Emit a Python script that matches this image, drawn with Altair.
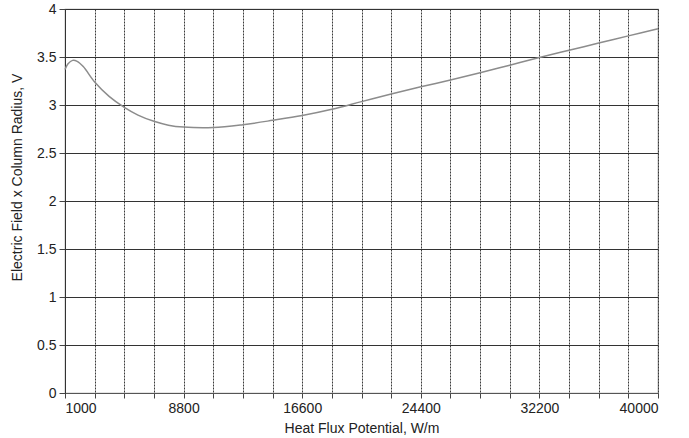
import altair as alt
import pandas as pd

heat_flux = [1000, 1200, 1500, 1800, 2200, 2950, 3900, 4900, 5800, 6850, 7800, 8800,
             10750, 12700, 14650, 16600, 18550, 20500, 22450, 24400, 26350, 28300,
             30250, 32200, 34150, 36100, 38050, 40000]
efield = [3.37, 3.43, 3.465, 3.455, 3.40, 3.24, 3.09, 2.975, 2.895, 2.83, 2.79, 2.77,
          2.765, 2.795, 2.84, 2.89, 2.955, 3.035, 3.115, 3.19, 3.26, 3.335,
          3.415, 3.495, 3.57, 3.645, 3.72, 3.795]

x_grid = [1000 + 1950 * k for k in range(21)]
x_labels = [1000, 8800, 16600, 24400, 32200, 40000]
y_ticks = [0, 0.5, 1, 1.5, 2, 2.5, 3, 3.5, 4]

df = pd.DataFrame({"x": heat_flux, "y": efield})

FONT = "Liberation Sans"
label_test = " || ".join(f"datum.value == {v}" for v in x_labels)

chart = alt.Chart(df).mark_line(
    color="#8c8c8c", strokeWidth=1.5, interpolate="catmull-rom"
).encode(
    x=alt.X("x:Q", scale=alt.Scale(domain=[1000, 40000], nice=False, zero=False),
            axis=alt.Axis(values=x_grid, title="Heat Flux Potential, W/m",
                          labelExpr=f"({label_test}) ? format(datum.value, 'd') : ''",
                          grid=True, gridColor="#3a3a3a", gridDash=[2, 1], gridWidth=1,
                          tickSize=5, tickColor="#444444", domainColor="#555555",
                          labelFontSize=14, labelPadding=3, titleFontSize=14,
                          titlePadding=6, labelFont=FONT, titleFont=FONT,
                          labelColor="#222222", titleColor="#222222",
                          titleFontWeight="normal", labelOverlap=False)),
    y=alt.Y("y:Q", scale=alt.Scale(domain=[0, 4], nice=False),
            axis=alt.Axis(values=y_ticks, title="Electric Field x Column Radius, V",
                          format="~g",
                          grid=True, gridColor="#333333", gridWidth=1,
                          tickSize=6, tickColor="#444444", domainColor="#333333",
                          labelFontSize=14, labelPadding=3, titleFontSize=14,
                          labelFont=FONT, titleFont=FONT,
                          labelColor="#222222", titleColor="#222222",
                          titleFontWeight="normal", titleX=-41, titleY=168))
).properties(
    width=593, height=384,
    autosize=alt.AutoSizeParams(type="none"),
    padding={"left": 65, "top": 9, "right": 31, "bottom": 45},
).configure_view(stroke="#999999", strokeWidth=1.2)

chart.save("out.html", embed_options={"renderer": "svg", "actions": False})
